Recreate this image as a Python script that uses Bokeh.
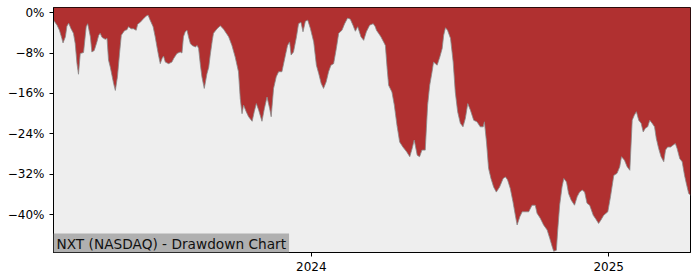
from bokeh.plotting import figure
from bokeh.models import Range1d, FixedTicker, CustomJSTickFormatter, Label
from bokeh.embed import file_html
from bokeh.resources import INLINE

# Time as fractional year, drawdown in percent
years = [
    2023.133, 2023.145, 2023.153, 2023.161, 2023.165, 2023.173, 2023.178, 2023.184, 2023.192, 2023.200,
    2023.206, 2023.212, 2023.217, 2023.223, 2023.234, 2023.243, 2023.248, 2023.257, 2023.262, 2023.270,
    2023.279, 2023.285, 2023.290, 2023.296, 2023.307, 2023.313, 2023.318, 2023.324, 2023.335, 2023.341,
    2023.348, 2023.355, 2023.361, 2023.369, 2023.374, 2023.380, 2023.385, 2023.394, 2023.402, 2023.411,
    2023.416, 2023.425, 2023.436, 2023.445, 2023.451, 2023.458, 2023.468, 2023.475, 2023.481, 2023.486,
    2023.492, 2023.498, 2023.503, 2023.509, 2023.520, 2023.531, 2023.537, 2023.548, 2023.559, 2023.565,
    2023.570, 2023.576, 2023.582, 2023.587, 2023.593, 2023.599, 2023.610, 2023.616, 2023.621, 2023.627,
    2023.632, 2023.640, 2023.649, 2023.655, 2023.660, 2023.667, 2023.671, 2023.683, 2023.694, 2023.705,
    2023.722, 2023.733, 2023.744, 2023.755, 2023.761, 2023.767, 2023.772, 2023.781, 2023.789, 2023.801,
    2023.808, 2023.815, 2023.823, 2023.834, 2023.842, 2023.851, 2023.860, 2023.865, 2023.873, 2023.882,
    2023.890, 2023.901, 2023.913, 2023.920, 2023.927, 2023.932, 2023.940, 2023.950, 2023.957, 2023.965,
    2023.972, 2023.980, 2023.988, 2023.997, 2024.008, 2024.017, 2024.025, 2024.033, 2024.041, 2024.050,
    2024.058, 2024.066, 2024.075, 2024.084, 2024.092, 2024.103, 2024.112, 2024.122, 2024.131, 2024.140,
    2024.148, 2024.156, 2024.167, 2024.176, 2024.185, 2024.196, 2024.208, 2024.215, 2024.219, 2024.226,
    2024.234, 2024.243, 2024.249, 2024.255, 2024.260, 2024.271, 2024.279, 2024.288, 2024.297, 2024.308,
    2024.320, 2024.331, 2024.339, 2024.346, 2024.356, 2024.364, 2024.372, 2024.383, 2024.391, 2024.398,
    2024.406, 2024.411, 2024.423, 2024.432, 2024.440, 2024.445, 2024.451, 2024.458, 2024.468, 2024.477,
    2024.484, 2024.492, 2024.501, 2024.510, 2024.518, 2024.526, 2024.535, 2024.546, 2024.557, 2024.568,
    2024.578, 2024.582, 2024.589, 2024.596, 2024.604, 2024.613, 2024.622, 2024.633, 2024.645, 2024.653,
    2024.660, 2024.669, 2024.678, 2024.686, 2024.692, 2024.701, 2024.709, 2024.720, 2024.731, 2024.742,
    2024.753, 2024.759, 2024.770, 2024.781, 2024.793, 2024.802, 2024.810, 2024.815, 2024.824, 2024.828,
    2024.835, 2024.843, 2024.849, 2024.858, 2024.865, 2024.874, 2024.885, 2024.894, 2024.902, 2024.911,
    2024.919, 2024.927, 2024.936, 2024.948, 2024.955, 2024.966, 2024.974, 2024.983, 2024.997, 2025.006,
    2025.017, 2025.028, 2025.037, 2025.043, 2025.053, 2025.062, 2025.071, 2025.079, 2025.086, 2025.093,
    2025.101, 2025.109, 2025.116, 2025.123, 2025.131, 2025.138, 2025.146, 2025.154, 2025.160, 2025.168,
    2025.176, 2025.185, 2025.191, 2025.198, 2025.208, 2025.217, 2025.224, 2025.230, 2025.239, 2025.247,
    2025.255, 2025.261, 2025.269, 2025.275,
]

drawdown_pct = [
    -1.5, -2.5, -3.5, -5.1, -6.0, -4.8, -2.7, -2.1, -3.2, -4.1,
    -6.1, -10.1, -12.2, -8.1, -7.9, -2.8, -2.2, -4.8, -7.8, -7.5,
    -5.8, -4.5, -4.1, -4.9, -5.3, -5.1, -9.4, -10.8, -14.0, -15.4,
    -12.7, -8.1, -4.5, -3.8, -3.5, -3.4, -2.8, -3.2, -3.2, -3.5,
    -2.3, -1.9, -1.2, -0.7, -0.5, -1.5, -2.8, -4.8, -6.8, -8.4,
    -10.1, -9.1, -8.6, -9.8, -10.1, -9.8, -9.1, -8.1, -7.8, -8.0,
    -4.8, -3.8, -3.5, -4.8, -6.1, -6.5, -6.8, -6.5, -7.1, -10.4,
    -12.7, -15.0, -12.1, -10.8, -8.4, -5.5, -4.1, -3.2, -2.6, -3.3,
    -4.8, -6.5, -8.8, -11.7, -17.0, -20.0, -18.3, -19.6, -20.6, -21.5,
    -19.6, -18.0, -19.3, -21.5, -19.0, -16.7, -19.0, -20.6, -15.0, -12.7,
    -11.7, -11.7, -8.4, -6.5, -5.8, -8.4, -7.8, -4.8, -2.2, -1.9,
    -3.8, -1.7, -1.5, -3.2, -5.8, -10.4, -12.1, -14.0, -15.0, -13.7,
    -11.7, -10.4, -10.1, -7.1, -4.1, -3.5, -2.2, -1.1, -1.3, -2.5,
    -3.7, -2.8, -4.8, -5.5, -3.8, -2.5, -2.2, -2.8, -3.5, -4.1,
    -4.8, -5.8, -6.5, -11.1, -14.4, -15.7, -18.3, -22.3, -25.6, -26.6,
    -27.5, -28.5, -26.9, -25.2, -28.2, -28.5, -27.2, -27.2, -18.3, -14.4,
    -11.7, -9.8, -10.4, -8.8, -7.1, -4.5, -3.0, -3.5, -5.1, -9.8,
    -15.7, -19.6, -21.9, -22.6, -20.9, -18.0, -19.3, -21.3, -21.6, -22.6,
    -22.6, -21.6, -25.6, -30.8, -32.8, -34.5, -35.5, -34.5, -32.8, -32.5,
    -33.1, -34.8, -37.4, -40.1, -42.0, -40.4, -39.4, -39.4, -39.4, -38.1,
    -38.1, -39.7, -40.7, -42.0, -43.0, -44.7, -46.3, -47.2, -47.0, -43.4,
    -38.1, -34.5, -32.8, -33.5, -35.8, -37.1, -38.1, -36.4, -35.5, -35.1,
    -35.5, -37.7, -38.1, -40.1, -40.7, -41.7, -41.0, -40.1, -39.4, -36.4,
    -32.2, -31.8, -30.5, -28.5, -29.2, -30.5, -31.2, -21.3, -20.3, -19.6,
    -21.3, -21.9, -23.6, -22.9, -22.6, -21.3, -21.9, -22.6, -24.9, -26.9,
    -28.5, -29.5, -27.2, -26.6, -26.6, -26.2, -25.9, -26.9, -28.9, -29.5,
    -32.2, -33.8, -35.8, -36.1,
]

y_ticks = [0, -8, -16, -24, -32, -40]
x_ticks = [2024, 2025]
title_text = "NXT (NASDAQ) - Drawdown Chart"

y_lo, y_hi = -47.45, 1.0

p = figure(width=700, height=280, output_backend="svg", toolbar_location=None,
           x_range=Range1d(years[0], years[-1]), y_range=Range1d(y_lo, y_hi),
           min_border_left=53, min_border_right=10, min_border_top=7, min_border_bottom=28)

p.background_fill_color = "#EEEEEE"
p.border_fill_color = "white"
p.outline_line_color = "black"
p.outline_line_width = 1
p.grid.visible = False

p.varea(x=years, y1=drawdown_pct, y2=y_hi, fill_color="#B03030")
p.line(years, drawdown_pct, line_color="#8a8a8a", line_width=1, line_alpha=0.8)

for ax in (p.xaxis[0], p.yaxis[0]):
    ax.axis_line_color = "black"
    ax.major_tick_line_color = "black"
    ax.major_tick_out = 4
    ax.major_tick_in = 0
    ax.minor_tick_line_color = None
    ax.major_label_text_font = "DejaVu Sans"
    ax.major_label_text_font_size = "12px"
    ax.major_label_text_color = "black"

p.yaxis.ticker = FixedTicker(ticks=y_ticks)
p.yaxis.formatter = CustomJSTickFormatter(
    code="return (tick < 0 ? '\u2212' + Math.abs(tick) : tick) + '%';")
p.xaxis.ticker = FixedTicker(ticks=x_ticks)
p.xaxis.formatter = CustomJSTickFormatter(code="return tick.toFixed(0);")

lbl = Label(x=years[0], y=y_lo, text=title_text, text_font="DejaVu Sans",
            text_font_size="13.7px", text_color="#111111",
            background_fill_color="#B0B0B0", text_baseline="bottom",
            padding=dict(left=3, right=3, top=2, bottom=1))
p.add_layout(lbl)

open("out.html", "w").write(file_html(p, INLINE))
